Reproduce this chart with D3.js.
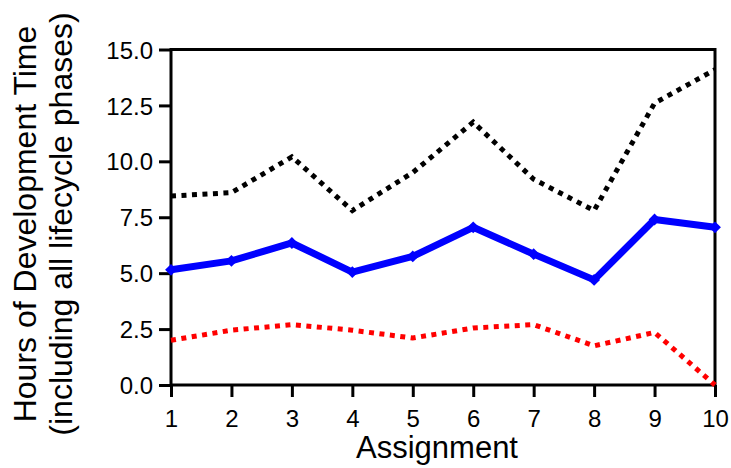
<!DOCTYPE html>
<meta charset='utf-8'>
<html>
  <head>
    <script src="https://d3js.org/d3.v7.min.js"></script>
    <style>
      body { margin: 0; background: #fff; }
      text { font-family: "Liberation Sans", Arial, sans-serif; fill: #000; }
    </style>
  </head>
  <body>
    <div id="chart"></div>
    <script>
        // data
        var assignments = [1, 2, 3, 4, 5, 6, 7, 8, 9, 10]
        var upper = [8.45, 8.6, 10.2, 7.8, 9.5, 11.75, 9.2, 7.8, 12.6, 14.1]
        var mean = [5.15, 5.55, 6.35, 5.05, 5.75, 7.05, 5.85, 4.7, 7.4, 7.05]
        var lower = [2.0, 2.45, 2.7, 2.45, 2.1, 2.55, 2.7, 1.75, 2.35, 0.0]
        var yTicks = [0, 2.5, 5, 7.5, 10, 12.5, 15]

        var W = 731, H = 468
        var margin = { top: 49.5, right: 16, bottom: 83, left: 171 }
        var w = W - margin.left - margin.right
        var h = H - margin.top - margin.bottom

        var svg = d3.select('#chart').append('svg')
            .attr('width', W)
            .attr('height', H)
        var g = svg.append('g')
            .attr('transform', 'translate(' + margin.left + ',' + margin.top + ')')

        var xScale = d3.scaleLinear().domain([1, 10]).range([0, w])
        var yScale = d3.scaleLinear().domain([0, 15]).range([h, 0])

        // frame
        g.append('rect')
            .attr('width', w).attr('height', h)
            .attr('fill', 'none').attr('stroke', '#000').attr('stroke-width', 3)

        var xAxis = d3.axisBottom(xScale).tickValues(assignments).tickSize(12).tickPadding(13)
            .tickFormat(d3.format('d'))
        var yAxis = d3.axisLeft(yScale).tickValues(yTicks).tickSize(12).tickPadding(6)
            .tickFormat(d3.format('.1f'))

        var gx = g.append('g').attr('transform', 'translate(0,' + h + ')').call(xAxis)
        var gy = g.append('g').call(yAxis)
        ;[gx, gy].forEach(function (a) {
            a.select('.domain').remove()
            a.selectAll('line').attr('stroke', '#000').attr('stroke-width', 3)
            a.selectAll('text').style('font-size', '24px').attr('fill', '#000')
                .style('font-family', '"Liberation Sans", Arial, sans-serif')
        })
        gy.selectAll('text').attr('dy', '0.36em')
        gx.selectAll('text').attr('dy', '0.72em')

        var line = d3.line()
            .x(function (d, i) { return xScale(assignments[i]) })
            .y(function (d) { return yScale(d) })

        g.append('path').datum(upper)
            .attr('d', line).attr('fill', 'none')
            .attr('stroke', '#000').attr('stroke-width', 5)
            .attr('stroke-dasharray', '5,5.5')

        g.append('path').datum(lower)
            .attr('d', line).attr('fill', 'none')
            .attr('stroke', '#ff0000').attr('stroke-width', 5)
            .attr('stroke-dasharray', '5,5.5')

        g.append('path').datum(mean)
            .attr('d', line).attr('fill', 'none')
            .attr('stroke', '#0000ff').attr('stroke-width', 7)
            .attr('stroke-linejoin', 'round')

        g.selectAll('.marker').data(mean).enter()
            .append('path')
            .attr('class', 'marker')
            .attr('d', d3.symbol().type(d3.symbolSquare).size(70))
            .attr('transform', function (d, i) {
                return 'translate(' + xScale(assignments[i]) + ',' + yScale(d) + ') rotate(45)'
            })
            .attr('fill', '#0000ff')

        // axis titles
        svg.append('text')
            .attr('x', 437)
            .attr('y', 458)
            .attr('text-anchor', 'middle')
            .style('font-size', '31px')
            .text('Assignment')

        var yl = svg.append('text')
            .attr('transform', 'translate(0,224) rotate(-90)')
            .attr('text-anchor', 'middle')
            .style('font-size', '32px')
        yl.append('tspan').attr('x', 0).attr('y', 36).text('Hours of Development Time')
        yl.append('tspan').attr('x', 0).attr('y', 72).text('(including all lifecycle phases)')
    </script>
  </body>
</html>
